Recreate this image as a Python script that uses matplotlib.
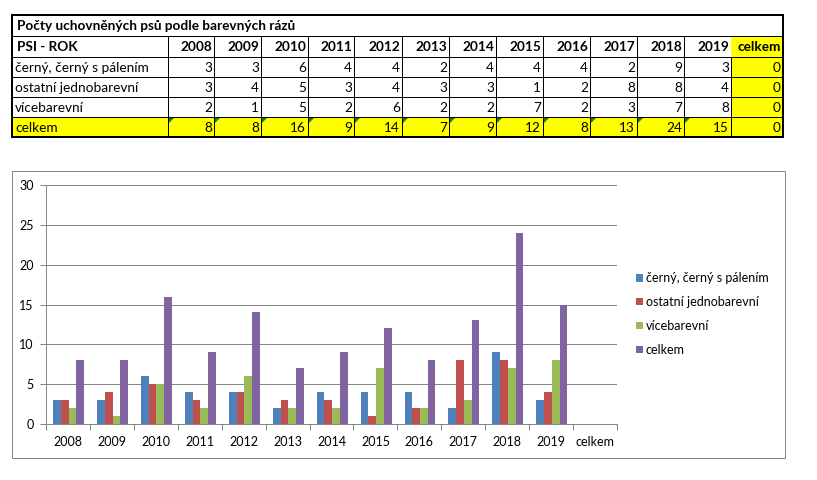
import matplotlib
matplotlib.use("Agg")
import matplotlib.pyplot as plt
from matplotlib.patches import Rectangle, Polygon
import numpy as np

plt.rcParams['font.family'] = ['Lato', 'DejaVu Sans']

title = "Počty uchovněných psů podle barevných rázů"
header_label = "PSI - ROK"
years = ["2008", "2009", "2010", "2011", "2012", "2013", "2014", "2015",
         "2016", "2017", "2018", "2019"]
total_label = "celkem"
series_names = ["černý, černý s pálením", "ostatní jednobarevní", "vícebarevní", "celkem"]
cerny = [3, 3, 6, 4, 4, 2, 4, 4, 4, 2, 9, 3]
ostatni = [3, 4, 5, 3, 4, 3, 3, 1, 2, 8, 8, 4]
vicebarevni = [2, 1, 5, 2, 6, 2, 2, 7, 2, 3, 7, 8]
celkem = [8, 8, 16, 9, 14, 7, 9, 12, 8, 13, 24, 15]
celkem_col = [0, 0, 0, 0]
yticks = [0, 5, 10, 15, 20, 25, 30]

colors = ["#4F81BD", "#C0504D", "#9BBB59", "#8064A2"]
YELLOW = "#FFFF00"
W, H = 817, 480

fig = plt.figure(figsize=(W / 100, H / 100), dpi=100)
bg = fig.add_axes([0, 0, 1, 1], zorder=0)
bg.set_xlim(0, W)
bg.set_ylim(H, 0)
bg.axis("off")

# ---------------- table ----------------
x_left = 12
col0_right = 168
col_edges = [x_left, col0_right] + [214, 261, 308, 354, 402, 449, 496, 543, 590, 637, 684, 731, 783]
row_edges = [15, 36, 57, 77, 97, 117, 137]
px = 0.72  # 1 pixel in points
fs_tab = 9.8

rows = [
    (series_names[0], cerny, celkem_col[0]),
    (series_names[1], ostatni, celkem_col[1]),
    (series_names[2], vicebarevni, celkem_col[2]),
    (total_label, celkem, celkem_col[3]),
]

# yellow fills
last_l, last_r = col_edges[-2], col_edges[-1]
bg.add_patch(Rectangle((last_l, row_edges[1]), last_r - last_l, row_edges[5] - row_edges[1],
                       facecolor=YELLOW, edgecolor="none", zorder=1))
bg.add_patch(Rectangle((x_left, row_edges[5]), last_r - x_left, row_edges[6] - row_edges[5],
                       facecolor=YELLOW, edgecolor="none", zorder=1))

# horizontal grid lines
for y in row_edges[1:-1]:
    bg.plot([x_left, last_r], [y, y], color="black", lw=px, zorder=2, solid_capstyle="butt")
# vertical grid lines
for i, x in enumerate(col_edges[1:-1]):
    ytop = row_edges[1]
    if x == col_edges[-2]:
        ytop = row_edges[2]
    bg.plot([x, x], [ytop, row_edges[-1]], color="black", lw=px, zorder=2, solid_capstyle="butt")
# outer border
bg.add_patch(Rectangle((x_left, row_edges[0]), last_r - x_left, row_edges[-1] - row_edges[0],
                       facecolor="none", edgecolor="black", lw=2 * px, zorder=3))

def rc(i):
    return (row_edges[i] + row_edges[i + 1]) / 2 + 0.5

bg.text(x_left + 5, rc(0), title, fontsize=fs_tab, fontweight="bold", va="center", ha="left", zorder=4)
bg.text(x_left + 5, rc(1), header_label, fontsize=fs_tab, fontweight="bold", va="center", ha="left", zorder=4)
for j, yr in enumerate(years):
    bg.text(col_edges[j + 2] - 2, rc(1), yr, fontsize=fs_tab, fontweight="bold",
            va="center", ha="right", zorder=4)
bg.text(col_edges[-1] - 2, rc(1), total_label, fontsize=fs_tab, fontweight="bold",
        va="center", ha="right", zorder=4)

for r, (lab, vals, tot) in enumerate(rows):
    ri = r + 2
    bg.text(x_left + 3, rc(ri), lab, fontsize=fs_tab, va="center", ha="left", zorder=4)
    for j, v in enumerate(vals):
        bg.text(col_edges[j + 2] - 2, rc(ri), str(v), fontsize=fs_tab, va="center", ha="right", zorder=4)
        if r == 3:
            xl = col_edges[j + 1] + 1
            yt = row_edges[5] + 1
            bg.add_patch(Polygon([[xl, yt], [xl + 5, yt], [xl, yt + 5]], closed=True,
                                 facecolor="#1F7A1F", edgecolor="none", zorder=4))
    bg.text(col_edges[-1] - 2, rc(ri), str(tot), fontsize=fs_tab, va="center", ha="right", zorder=4)

# ---------------- chart ----------------
bg.add_patch(Rectangle((12, 171), 785 - 12, 458 - 171, facecolor="white",
                       edgecolor="#868686", lw=px, zorder=1))

ax_l, ax_r, ax_t, ax_b = 46, 617, 185, 424
ax = fig.add_axes([ax_l / W, 1 - ax_b / H, (ax_r - ax_l) / W, (ax_b - ax_t) / H], zorder=2)
ax.patch.set_alpha(0)

categories = years + [total_label]
series = [cerny + [celkem_col[0]], ostatni + [celkem_col[1]],
          vicebarevni + [celkem_col[2]], celkem + [celkem_col[3]]]
x = np.arange(len(categories))
bw = 0.176
handles = []
for k, (vals, c) in enumerate(zip(series, colors)):
    h = ax.bar(x + (k - 1.5) * bw + 0.015, vals, width=bw, color=c, edgecolor="none",
               label=series_names[k], zorder=3)
    handles.append(h)

ax.set_xlim(-0.5, len(categories) - 0.5)
ax.set_ylim(0, 30)
ax.set_yticks(yticks)
ax.set_xticks(x)
ax.set_xticklabels(categories)
ax.set_xticks(np.arange(-0.5, len(categories)), minor=True)
ax.grid(axis="y", color="#868686", lw=px, zorder=0)
for s in ["top", "right"]:
    ax.spines[s].set_visible(False)
for s in ["left", "bottom"]:
    ax.spines[s].set_color("#868686")
    ax.spines[s].set_linewidth(px)
ax.tick_params(axis="x", which="major", length=0, pad=9, labelsize=9, colors="black")
ax.tick_params(axis="x", which="minor", length=4, width=px, color="#868686", direction="out")
ax.tick_params(axis="y", length=4, width=px, color="#868686", pad=5, labelsize=9)

leg = fig.legend(handles=handles, labels=series_names, loc="center left",
                 bbox_to_anchor=(636 / W, 1 - 314 / H), frameon=False,
                 fontsize=9, handlelength=0.55, handleheight=0.55, handletextpad=0.25,
                 labelspacing=0.95, borderaxespad=0, borderpad=0)

fig.savefig("out.png", dpi=100)
